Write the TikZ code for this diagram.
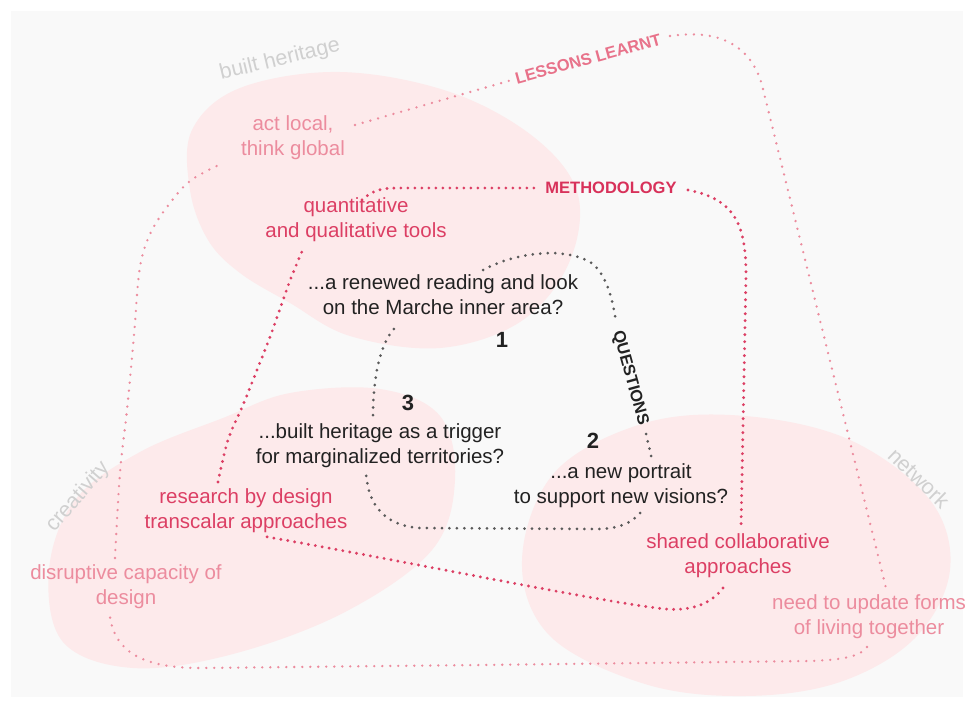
\documentclass[tikz,border=0pt]{standalone}
\usepackage{fontspec}
\setmainfont{Liberation Sans}
\definecolor{bgc}{HTML}{F9F9F9}
\definecolor{blobc}{HTML}{FDEAEB}
\definecolor{lessonc}{HTML}{EC8C9E}
\definecolor{lessonT}{HTML}{E8728A}
\definecolor{methc}{HTML}{DC3F64}
\definecolor{methT}{HTML}{D8315A}
\definecolor{qdot}{HTML}{5A5A5A}
\definecolor{qtext}{HTML}{222222}
\definecolor{greyT}{HTML}{D0D0D0}
\tikzset{
  txt/.style={align=center,inner sep=0pt,font=\fontsize{20.5}{25}\selectfont},
  lesstxt/.style={txt,text=lessonc},
  methtxt/.style={txt,text=methc},
  qtxt/.style={txt,text=qtext},
  greytxt/.style={inner sep=0pt,text=greyT,font=\fontsize{21.5}{24}\selectfont},
  numtxt/.style={inner sep=0pt,text=qtext,font=\fontsize{22}{24}\selectfont\bfseries},
  headtxt/.style={inner sep=1pt,font=\fontsize{16.5}{20}\selectfont\bfseries},
  ldots/.style={draw=lessonc,line width=2.6pt,line cap=round,dash pattern=on 0pt off 8pt},
  mdots/.style={draw=methc,line width=3.2pt,line cap=round,dash pattern=on 0pt off 7pt},
  qdots/.style={draw=qdot,line width=3pt,line cap=round,dash pattern=on 0pt off 7.5pt},
  blob/.style={fill=blobc,draw=none}
}
\begin{document}
\begin{tikzpicture}[x=1pt,y=-1pt]
\useasboundingbox (0,0) rectangle (973,704);
\fill[white] (0,0) rectangle (973,704);
\fill[bgc] (11,11) rectangle (963,697);
% blobs
\fill[blob] plot[smooth cycle,tension=0.6] coordinates {(192,130) (240,88) (340,72) (450,92) (535,138) (578,195) (568,265) (520,322) (440,348) (350,336) (290,303) (240,273) (208,240) (190,190)};
\fill[blob] plot[smooth cycle,tension=0.6] coordinates {(49,570) (75,500) (140,452) (223,418) (290,393) (380,389) (440,416) (455,480) (432,550) (345,612) (233,654) (133,668) (63,642)};
\fill[blob] plot[smooth cycle,tension=0.6] coordinates {(522,560) (555,472) (645,423) (745,416) (850,440) (930,500) (950,570) (915,638) (840,682) (745,696) (645,684) (550,636)};
% labels
\node[greytxt,rotate=13.5] (bh) at (280,60) {built heritage};
\node[greytxt,rotate=49] (cr) at (78,497) {creativity};
\node[greytxt,rotate=-44] (nw) at (919,478) {network};
\node[headtxt,text=lessonT,rotate=15.4] (lessons) at (588,59) {LESSONS LEARNT};
\node[headtxt,text=methT] (met) at (611,188) {METHODOLOGY};
\node[headtxt,text=qtext,rotate=-74.5] (ques) at (630,378) {QUESTIONS};
\node[lesstxt] (act) at (293,138) {act local,\\think global};
\node[lesstxt] (dis) at (126,587) {disruptive capacity of\\design};
\node[lesstxt] (need) at (869,617) {need to update forms\\of living together};
\node[methtxt] (quant) at (356,220) {quantitative\\and qualitative tools};
\node[methtxt] (res) at (246,511) {research by design\\transcalar approaches};
\node[methtxt] (shared) at (738,556) {shared collaborative\\approaches};
\node[qtxt] (q1) at (443,295) {...a renewed reading and look\\on the Marche inner area?};
\node[qtxt] (q3) at (380,446) {...built heritage as a trigger\\for marginalized territories?};
\node[qtxt] (q2) at (621,486) {...a new portrait\\to support new visions?};
\node[numtxt] (n1) at (502,340) {1};
\node[numtxt] (n3) at (408,403) {3};
\node[numtxt] (n2) at (593,441) {2};
% lessons learnt loop
\coordinate (a1) at (355,125);
\coordinate (a2) at (223,163);
\coordinate (l1) at (670,36);
\coordinate (u1) at (886,588);
\coordinate (u2) at (867,647);
\coordinate (d1) at (110,617);
\coordinate (d2) at (115,558);
\draw[ldots] (a1) -- (lessons.west);
\draw[ldots] (l1) .. controls (725,28) and (752,50) .. (762,85) -- (u1);
\draw[ldots] (u2) .. controls (860,657) and (840,660) .. (810,661) -- (480,665) -- (200,668) .. controls (140,668) and (115,650) .. (d1);
\draw[ldots] plot[smooth,tension=0.6] coordinates {(d2) (120,473) (127,410) (132,357) (135,323) (138,283) (142,257) (151,232) (167,207) (190,181) (a2)};
% methodology loop
\coordinate (m1) at (688,190);
\coordinate (s1) at (741,527);
\coordinate (s2) at (723,588);
\coordinate (t1) at (262,536);
\coordinate (r1) at (218,482);
\coordinate (k1) at (303,249);
\coordinate (k2) at (362,200);
\coordinate (m2) at (538,188);
\draw[mdots] (m1) .. controls (735,199) and (746,225) .. (746,275) -- (s1);
\draw[mdots] (s2) .. controls (710,605) and (690,611) .. (665,609) .. controls (600,602) and (400,560) .. (t1);
\draw[mdots] plot[smooth,tension=0.6] coordinates {(r1) (228,440) (243,405) (257,370) (270,337) (282,303) (291,278) (k1)};
\draw[mdots] (k2) .. controls (370,192) and (380,188) .. (395,188) -- (m2);
% questions loop
\coordinate (p1) at (483,270);
\coordinate (p2) at (616,322);
\coordinate (p3) at (646,434);
\coordinate (p4) at (652,460);
\coordinate (p5) at (640,513);
\coordinate (p6) at (366,473);
\coordinate (p7) at (373,415);
\coordinate (p8) at (397,326);
\draw[qdots] (p1) .. controls (510,255) and (560,245) .. (590,262) .. controls (605,272) and (612,295) .. (p2);
\draw[qdots] (p3) -- (p4);
\draw[qdots] (p5) .. controls (630,525) and (615,529) .. (595,529) -- (420,528) .. controls (385,526) and (368,505) .. (p6);
\draw[qdots] (p7) .. controls (373,380) and (380,340) .. (p8);
\end{tikzpicture}
\end{document}
